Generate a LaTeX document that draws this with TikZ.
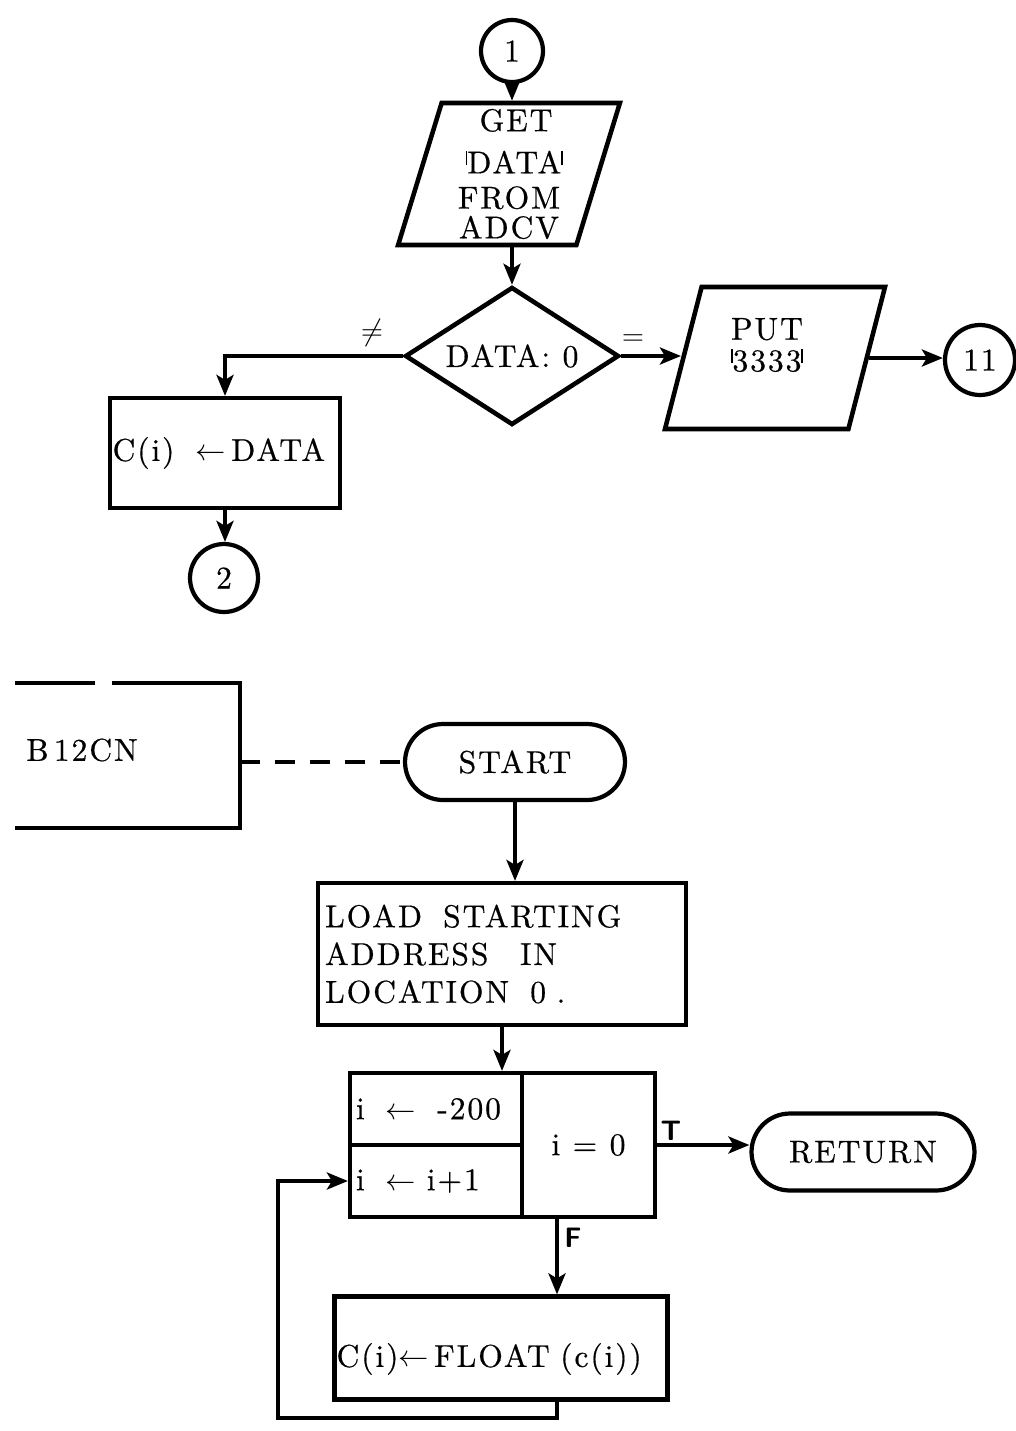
\documentclass[tikz,border=0pt]{standalone}
\usepackage{fontspec}
\newfontfamily\dfont{lmroman10-regular.otf}[LetterSpace=6,FakeBold=0.5]
\usetikzlibrary{shapes.geometric,shapes.misc,arrows.meta}
\newcommand\tk{\raisebox{0.25em}{\rule{1pt}{0.45em}}}
\begin{document}
\begin{tikzpicture}[x=0.02cm,y=-0.02cm,
  every node/.style={font=\dfont\fontsize{18}{21}\selectfont},
  ln/.style={line width=2.4pt},
  arr/.style={line width=2.2pt,-{Stealth[length=0.42cm,width=0.34cm,inset=0.1cm]}},
  conn/.style={circle,draw,line width=2.4pt,inner sep=0pt},
  io/.style={trapezium,draw,line width=2.6pt,trapezium stretches=true,inner sep=0pt,align=center},
  proc/.style={rectangle,draw,line width=2.4pt,inner sep=0pt},
  term/.style={rounded rectangle,draw,line width=2.4pt,inner sep=0pt},
  dec/.style={diamond,draw,line width=2.6pt,inner sep=0pt,aspect=1.55},
  lbl/.style={inner sep=0pt},
  ]
\useasboundingbox (0,0) rectangle (1016,1431);

% ---------- upper part ----------
\node[conn,minimum size=1.24cm] (c1) at (512,51) {1};
\node[io,trapezium left angle=75,trapezium right angle=105,minimum width=4.44cm,minimum height=2.84cm] (get) at (509,174)
  {\hspace*{8pt}GET\\[3pt]\hspace*{6pt}\tk DATA\tk\\[-1pt]FROM\\[-4pt]ADCV};
\node[dec,minimum width=4.28cm,minimum height=2.76cm] (dia) at (512,356) {DATA:\ 0};
\node[io,trapezium left angle=76,trapezium right angle=104,minimum width=4.4cm,minimum height=2.84cm,inner sep=1pt] (put) at (775,358) {};
\node[lbl,align=center] (putl) at (767,345) {PUT\\[-3pt]\tk3333\tk};
\node[conn,minimum size=1.4cm] (c11) at (980,360) {11};
\node[proc,minimum width=4.6cm,minimum height=2.2cm,text width=4.5cm,align=left] (cd) at (225,453)
  {C(i)\ \ $\leftarrow$\,DATA};
\node[conn,minimum size=1.36cm] (c2) at (224,578) {2};
\node[lbl] (ne) at (372,333) {$\neq$};
\node[lbl] (eq) at (633,340) {$=$};

\draw[arr] (c1.south) -- (c1.south |- get.north);
\draw[arr] (dia.north |- get.south) -- (dia.north);
\draw[arr] (dia.west) -| (cd.north);
\draw[arr] (dia.east) -- (dia.east -| put.left side);
\draw[arr] (put.right side) -- (c11.west |- put.right side);
\draw[arr] (cd.south) -- (cd.south |- c2.north);

% ---------- lower part ----------
\node[lbl] (b12) at (82,750) {B\,12CN};
\draw[ln] (15,683) -- (95,683) (112,683) -- (240,683) -- (240,828) -- (15,828);
\coordinate (b12r) at (240,762);
\node[term,minimum width=4.4cm,minimum height=1.52cm] (start) at (515,762) {START};
\draw[line width=2.2pt,dash pattern=on 0.4cm off 0.3cm] (b12r) -- (start.west);

\node[proc,minimum width=7.36cm,minimum height=2.84cm,text width=7.08cm,align=left,font=\dfont\fontsize{18}{21.5}\selectfont] (load) at (502,954)
  {LOAD\ \ STARTING\\ADDRESS\ \ \ IN\\LOCATION\ \ 0\ .};
\draw[arr] (start.south) -- (start.south |- load.north);

\node[proc,minimum width=3.44cm,minimum height=1.44cm,text width=3.2cm,align=left] (init) at (436,1109) {i\ \ $\leftarrow$\ \ -200};
\node[proc,minimum width=3.44cm,minimum height=1.44cm,text width=3.2cm,align=left] (incr) at (436,1181) {i\ \ $\leftarrow$\ i+1};
\node[proc,minimum width=2.66cm,minimum height=2.88cm] (test) at (588.5,1145) {i\ =\ 0};
\draw[arr] (load.south) -- (load.south |- init.north);

\node[term,minimum width=4.46cm,minimum height=1.54cm] (ret) at (863,1152) {RETURN};
\draw[arr] (test.east) -- (test.east -| ret.west);
\node[lbl,font=\sffamily\bfseries\fontsize{16}{18}\selectfont] (tl) at (671,1131) {T};

\coordinate (fx) at (557,1260);
\node[proc,minimum width=6.66cm,minimum height=2.06cm,text width=6.58cm,align=left,text height=26pt] (float) at (501,1348)
  {C(i)$\leftarrow$\,FLOAT\ (c(i))};
\node[lbl,font=\sffamily\bfseries\fontsize{16}{18}\selectfont] (fl) at (573,1238) {F};
\draw[arr] (fx |- test.south) -- (fx |- float.north);
\coordinate (lp) at (278,1418);
\draw[arr] (fx |- float.south) -- (fx |- lp) -- (lp) -- (lp |- incr.west) -- (incr.west);
\end{tikzpicture}
\end{document}
